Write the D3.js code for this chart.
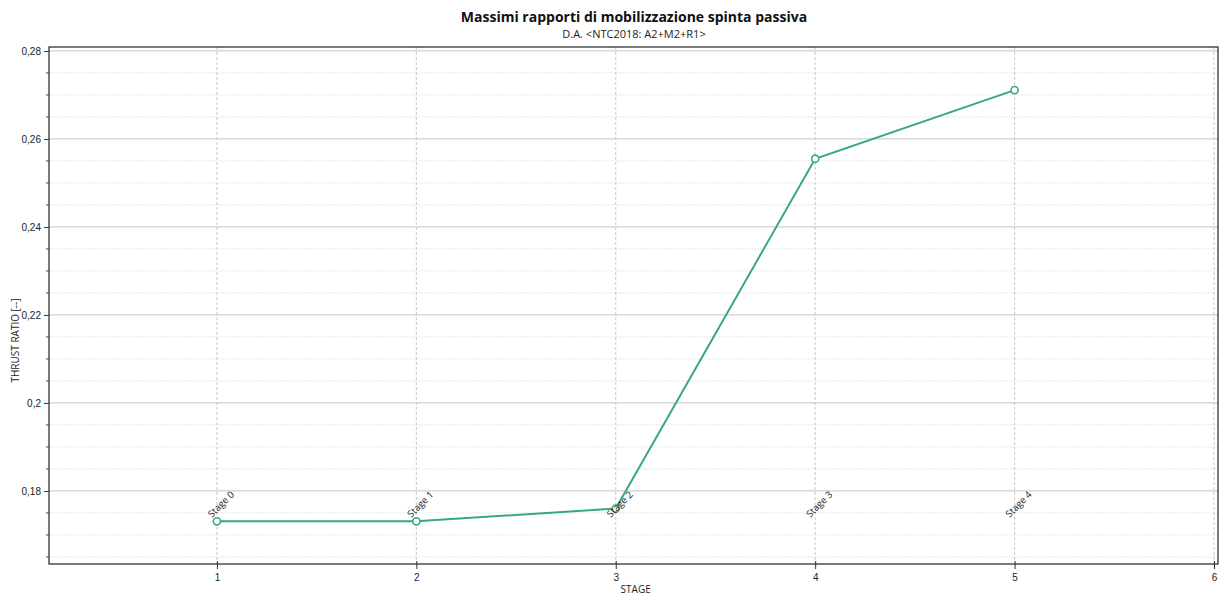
<!DOCTYPE html>
<html>
<head>
<meta charset="utf-8">
<script src="https://cdn.jsdelivr.net/npm/d3@7"></script>
<style>
    body { margin: 0; background: #fff; }
    svg { font-family: "Open Sans", "Noto Sans", sans-serif; }
</style>
</head>
<body>
<svg width="1220" height="596"></svg>
<script>
// chart data
const stages = [1, 2, 3, 4, 5];
const stageLabels = ['Stage 0', 'Stage 1', 'Stage 2', 'Stage 3', 'Stage 4'];
const thrustRatio = [0.1731, 0.1731, 0.1760, 0.2555, 0.2711];
const labelLevel = [0.1741, 0.1741, 0.1741, 0.1741, 0.1741];
const xTicks = [1, 2, 3, 4, 5, 6];
const yTicks = [0.18, 0.2, 0.22, 0.24, 0.26, 0.28];
const yMinorTicks = [0.165, 0.17, 0.175, 0.185, 0.19, 0.195, 0.205, 0.21, 0.215,
    0.225, 0.23, 0.235, 0.245, 0.25, 0.255, 0.265, 0.27, 0.275];

const svg = d3.select('svg');

const margin = { top: 47, right: 2, bottom: 32, left: 49 };
const width = +svg.attr('width') - margin.left - margin.right;
const height = +svg.attr('height') - margin.top - margin.bottom;

const green = '#36a882';
const fmt = d => String(+d.toFixed(3)).replace('.', ',');

const xScale = d3.scaleLinear().domain([0.158, 6.02]).range([0, width]);
const yScale = d3.scaleLinear().domain([0.1634, 0.2809]).range([height, 0]);

const chart = svg.append('g')
    .attr('transform', `translate(${margin.left},${margin.top})`);

// Minor horizontal grid
chart.append('g')
    .selectAll('line')
    .data(yMinorTicks)
    .enter()
    .append('line')
    .attr('x1', 0)
    .attr('x2', width)
    .attr('y1', d => yScale(d))
    .attr('y2', d => yScale(d))
    .attr('stroke', '#e6e6e6')
    .attr('stroke-dasharray', '2,1');

// Major horizontal grid
chart.append('g')
    .selectAll('line')
    .data(yTicks)
    .enter()
    .append('line')
    .attr('x1', 0)
    .attr('x2', width)
    .attr('y1', d => yScale(d))
    .attr('y2', d => yScale(d))
    .attr('stroke', '#d0d0d0')
    .attr('stroke-width', 1.2);

// Vertical grid
chart.append('g')
    .selectAll('line')
    .data(xTicks)
    .enter()
    .append('line')
    .attr('x1', d => xScale(d))
    .attr('x2', d => xScale(d))
    .attr('y1', 0)
    .attr('y2', height)
    .attr('stroke', '#c8c8c8')
    .attr('stroke-dasharray', '3,2');

// Frame
chart.append('rect')
    .attr('width', width)
    .attr('height', height)
    .attr('fill', 'none')
    .attr('stroke', '#222')
    .attr('stroke-width', 1.2);

// Y axis
const yAxis = chart.append('g')
    .call(d3.axisLeft(yScale).tickValues(yTicks).tickFormat(fmt).tickSize(5).tickSizeOuter(0));
yAxis.select('.domain').remove();
yAxis.selectAll('text').style('font-size', '10px').attr('fill', '#222');
yAxis.selectAll('line').attr('stroke', '#333');

chart.append('g')
    .selectAll('line')
    .data(yMinorTicks)
    .enter()
    .append('line')
    .attr('x1', -3)
    .attr('x2', 0)
    .attr('y1', d => yScale(d))
    .attr('y2', d => yScale(d))
    .attr('stroke', '#444');

// X axis
const xAxis = chart.append('g')
    .attr('transform', `translate(0,${height})`)
    .call(d3.axisBottom(xScale).tickValues(xTicks).tickFormat(d3.format('d')).tickSize(5).tickSizeOuter(0));
xAxis.select('.domain').remove();
xAxis.selectAll('line').attr('stroke', '#333').attr('y1', -3);
xAxis.selectAll('text').style('font-size', '10px').attr('fill', '#222').attr('dy', '0.9em');

// Axis titles
svg.append('text')
    .attr('x', margin.left + xScale(3.1))
    .attr('y', 593)
    .attr('text-anchor', 'middle')
    .style('font-size', '10px')
    .attr('fill', '#222')
    .text('STAGE');

svg.append('text')
    .attr('transform', `translate(19,${margin.top + height / 2 + 35}) rotate(-90)`)
    .attr('text-anchor', 'middle')
    .style('font-size', '10px')
    .attr('fill', '#222')
    .text('THRUST RATIO [--]');

// Titles
svg.append('text')
    .attr('x', 634)
    .attr('y', 22)
    .attr('text-anchor', 'middle')
    .style('font-size', '14px')
    .style('font-weight', 'bold')
    .attr('fill', '#111')
    .text('Massimi rapporti di mobilizzazione spinta passiva');

svg.append('text')
    .attr('x', 634)
    .attr('y', 38)
    .attr('text-anchor', 'middle')
    .style('font-size', '11px')
    .attr('fill', '#222')
    .text('D.A. <NTC2018: A2+M2+R1>');

// Line
const line = d3.line()
    .x((d, i) => xScale(stages[i]))
    .y(d => yScale(d));

chart.append('path')
    .datum(thrustRatio)
    .attr('d', line)
    .attr('fill', 'none')
    .attr('stroke', green)
    .attr('stroke-width', 2);

chart.append('g')
    .selectAll('circle')
    .data(thrustRatio)
    .enter()
    .append('circle')
    .attr('cx', (d, i) => xScale(stages[i]))
    .attr('cy', d => yScale(d))
    .attr('r', 3.6)
    .attr('fill', '#fff')
    .attr('stroke', green)
    .attr('stroke-width', 1.6);

// Stage labels
chart.append('g')
    .selectAll('text')
    .data(stageLabels)
    .enter()
    .append('text')
    .attr('transform', (d, i) => `translate(${xScale(stages[i]) - 5},${yScale(labelLevel[i]) + 1}) rotate(-45)`)
    .style('font-size', '9.5px')
    .attr('fill', '#222')
    .text(d => d);
</script>
</body>
</html>
